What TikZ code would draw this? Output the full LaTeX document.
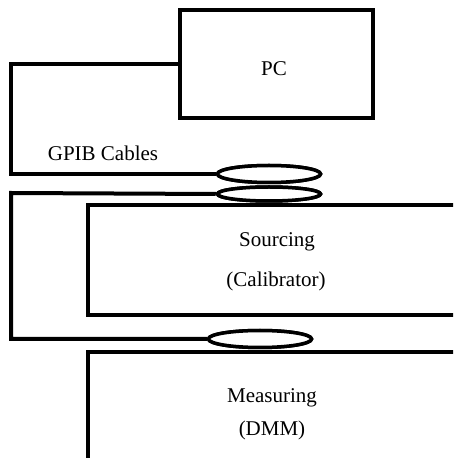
\documentclass[tikz,border=0pt]{standalone}
\usepackage{fontspec}
\setmainfont{Liberation Serif}
\usetikzlibrary{shapes.geometric}
\begin{document}
\begin{tikzpicture}[x=1pt,y=1pt,
  unit/.style={draw,line width=4pt,rectangle,inner sep=0pt},
  cable/.style={line width=4pt,line join=miter},
  loop/.style={draw,line width=3.5pt,ellipse,inner sep=0pt,fill=white,minimum width=103pt},
  lbl/.style={font=\fontsize{21}{24}\selectfont,anchor=base,inner sep=0pt}]
  \clip (0,0) rectangle (453,458);
  \useasboundingbox (0,0) rectangle (453,458);
  % instruments
  \node[unit,minimum width=193pt,minimum height=108pt] (pc) at (276.5,394) {};
  \node[unit,minimum width=390pt,minimum height=110pt,anchor=north west] (src) at (86,255) {};
  \node[unit,minimum width=390pt,minimum height=120pt,anchor=north west] (dmm) at (86,108) {};
  % cable bends
  \coordinate (c1) at (11,394);
  \coordinate (c2) at (11,265);
  % cable ties
  \node[loop,minimum height=17pt] (e1) at (269,284) {};
  \node[loop,minimum height=14pt] (e2) at (269,264) {};
  \node[loop,minimum height=17pt] (e3) at (260,119) {};
  % GPIB cables
  \draw[cable] (pc.west) -- (c1) |- (e1.west);
  \draw[cable] (e2.west) -- (c2) |- (e3.west);
  % redraw ties over the cables
  \node[loop,minimum height=17pt] at (e1) {};
  \node[loop,minimum height=14pt] at (e2) {};
  \node[loop,minimum height=17pt] at (e3) {};
  % labels
  \node[lbl] (tpc) at (274,382) {PC};
  \node[lbl] (tgpib) at (103,297) {GPIB Cables};
  \node[lbl] (ts1) at (277,211) {Sourcing};
  \node[lbl] (ts2) at (276,171) {(Calibrator)};
  \node[lbl] (tm1) at (272,55) {Measuring};
  \node[lbl] (tm2) at (272,22) {(DMM)};
\end{tikzpicture}
\end{document}
